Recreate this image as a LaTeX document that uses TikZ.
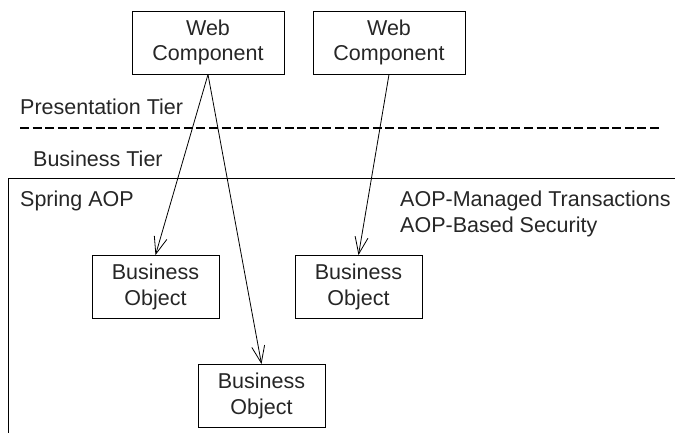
\documentclass[tikz,border=0pt]{standalone}
\usepackage{fontspec}
\setmainfont{Liberation Sans}
\usepackage{tikz}
\usetikzlibrary{shapes,arrows.meta,positioning}
\newcommand{\tierfont}{\fontsize{21.5}{25.5}\selectfont}

\begin{document}
\begin{tikzpicture}[x=1pt,y=-1pt,
    comp/.style={draw, line width=0.9pt, rectangle, align=center, inner sep=0pt,
        minimum width=152pt, minimum height=63pt, font=\tierfont, text=black!85},
    bobj/.style={comp, minimum width=127pt},
    lbl/.style={anchor=base west, inner sep=0pt, font=\tierfont, text=black!85},
    call/.style={line width=0.8pt, -{Straight Barb[length=17pt,width=13pt]}}]
    \useasboundingbox (0,0) rectangle (675,433);
    % Presentation tier
    \node[comp] (web1) at (208,42.5) {Web\\Component};
    \node[comp] (web2) at (389,42.5) {Web\\Component};
    \node[lbl] (pres) at (20,115) {Presentation Tier};
    \coordinate (dashL) at (20,128);
    \coordinate (dashR) at (662,128);
    \draw[line width=1.3pt, dash pattern=on 9pt off 3.6pt] (dashL) -- (dashR);
    % Business tier
    \node[lbl] (bus) at (33,167) {Business Tier};
    \coordinate (aopTL) at (8,179);
    \draw[line width=1pt] (8,433) -- (aopTL) -- (675,179);
    \node[lbl] (aop) at (20,207) {Spring AOP};
    \node[lbl] (trans) at (400,207) {AOP-Managed Transactions};
    \node[lbl] (secur) at (400,232) {AOP-Based Security};
    \node[bobj] (bo1) at (155.5,287) {Business\\Object};
    \node[bobj] (bo2) at (358.5,287) {Business\\Object};
    \node[bobj] (bo3) at (261.5,396) {Business\\Object};
    % Calls
    \draw[call] (web1.south) -- (bo1.north);
    \draw[call] (web1.south) -- (bo3.north);
    \draw[call] (web2.south) -- (bo2.north);
\end{tikzpicture}
\end{document}
